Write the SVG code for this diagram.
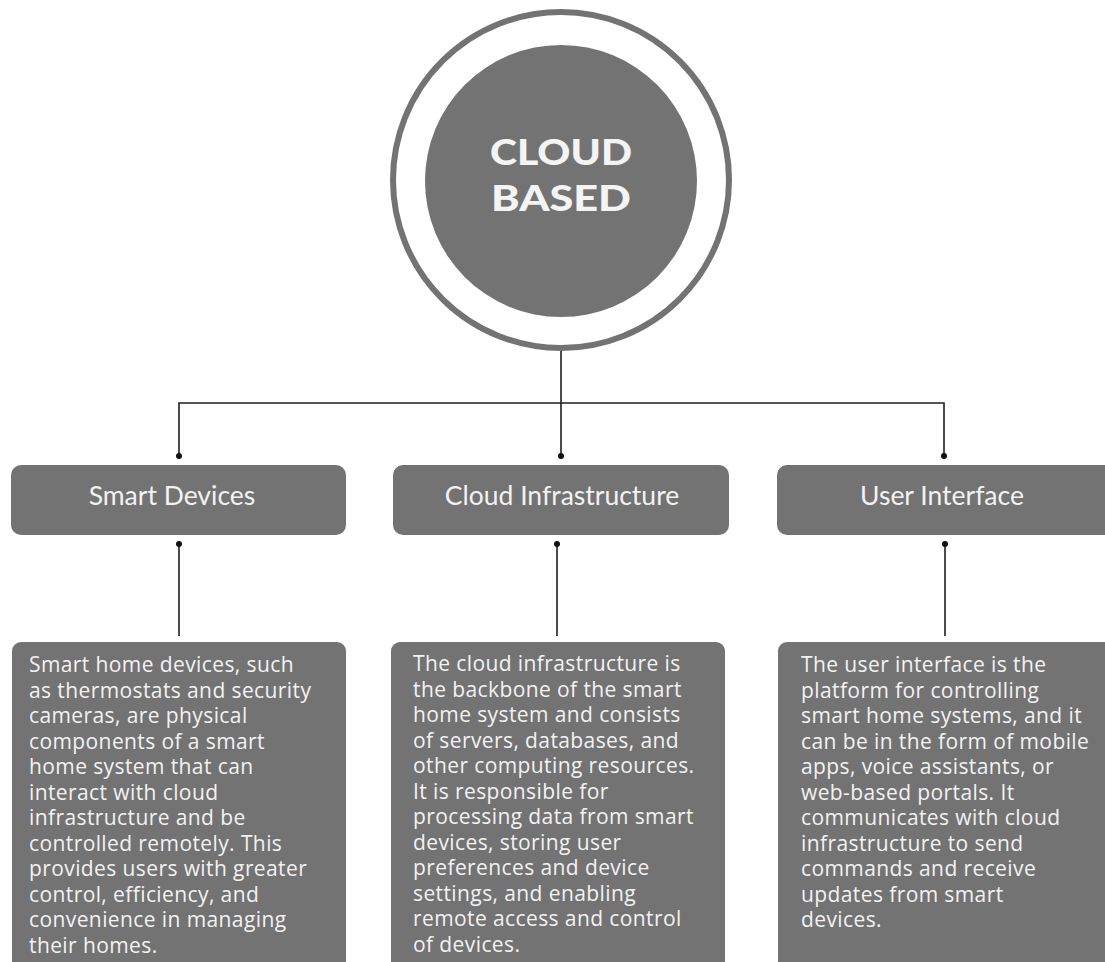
<svg xmlns="http://www.w3.org/2000/svg" width="1105" height="962" viewBox="0 0 1105 962">
<style>
.fill{fill:#737373}
.ring{fill:none;stroke:#737373;stroke-width:6}
.title{font-family:Lato,"Open Sans","DejaVu Sans",sans-serif;font-weight:900;font-size:36px;fill:#f4f4f4;text-anchor:middle}
.label{font-family:Lato,"Open Sans","DejaVu Sans",sans-serif;font-size:26.5px;fill:#f2f2f2;text-anchor:middle}
.desc{font-family:"Open Sans",Lato,"DejaVu Sans",sans-serif;font-size:21px;letter-spacing:0.4px;fill:#f2f2f2}
.conn{fill:none;stroke:#1e1e1e;stroke-width:1.6}
.dot{fill:#111}
</style>
<rect width="1105" height="962" fill="#ffffff"/>
<g id="connectors">
<polyline class="conn" points="179,456 179,403 944,403 944,456"/>
<line class="conn" x1="561" y1="351" x2="561" y2="456"/>
<line class="conn" x1="179" y1="544" x2="179" y2="636"/>
<line class="conn" x1="557" y1="544" x2="557" y2="636"/>
<line class="conn" x1="945" y1="544" x2="945" y2="636"/>
<circle class="dot" cx="179" cy="456" r="3"/>
<circle class="dot" cx="561" cy="456" r="3"/>
<circle class="dot" cx="944" cy="456" r="3"/>
<circle class="dot" cx="179" cy="544" r="3"/>
<circle class="dot" cx="557" cy="544" r="3"/>
<circle class="dot" cx="945" cy="544" r="3"/>
</g>
<g id="cloud-based">
<circle class="ring" cx="561" cy="180" r="168"/>
<circle class="fill" cx="561" cy="181" r="136"/>
<text class="title" x="561" y="165" textLength="142" lengthAdjust="spacingAndGlyphs">CLOUD</text>
<text class="title" x="561" y="211" textLength="140" lengthAdjust="spacingAndGlyphs">BASED</text>
</g>
<g id="smart-devices">
<rect class="fill" x="11" y="465" width="335" height="70" rx="10"/>
<text class="label" x="172" y="505">Smart Devices</text>
</g>
<g id="cloud-infrastructure">
<rect class="fill" x="393" y="465" width="336" height="70" rx="10"/>
<text class="label" x="562" y="505">Cloud Infrastructure</text>
</g>
<g id="user-interface">
<rect class="fill" x="777" y="465" width="340" height="70" rx="10"/>
<text class="label" x="942" y="505">User Interface</text>
</g>
<g id="smart-devices-desc">
<rect class="fill" x="12" y="642" width="334" height="340" rx="9"/>
<text class="desc" x="29" y="672">
<tspan x="29" y="672">Smart home devices, such</tspan>
<tspan x="29" y="697.5">as thermostats and security</tspan>
<tspan x="29" y="723">cameras, are physical</tspan>
<tspan x="29" y="748.5">components of a smart</tspan>
<tspan x="29" y="774">home system that can</tspan>
<tspan x="29" y="799.5">interact with cloud</tspan>
<tspan x="29" y="825">infrastructure and be</tspan>
<tspan x="29" y="850.5">controlled remotely. This</tspan>
<tspan x="29" y="876">provides users with greater</tspan>
<tspan x="29" y="901.5">control, efficiency, and</tspan>
<tspan x="29" y="927">convenience in managing</tspan>
<tspan x="29" y="952.5">their homes.</tspan>
</text>
</g>
<g id="cloud-infrastructure-desc">
<rect class="fill" x="391" y="642" width="334" height="340" rx="9"/>
<text class="desc" x="413" y="671">
<tspan x="413" y="671">The cloud infrastructure is</tspan>
<tspan x="413" y="696.5">the backbone of the smart</tspan>
<tspan x="413" y="722">home system and consists</tspan>
<tspan x="413" y="747.5">of servers, databases, and</tspan>
<tspan x="413" y="773">other computing resources.</tspan>
<tspan x="413" y="798.5">It is responsible for</tspan>
<tspan x="413" y="824">processing data from smart</tspan>
<tspan x="413" y="849.5">devices, storing user</tspan>
<tspan x="413" y="875">preferences and device</tspan>
<tspan x="413" y="900.5">settings, and enabling</tspan>
<tspan x="413" y="926">remote access and control</tspan>
<tspan x="413" y="951.5">of devices.</tspan>
</text>
</g>
<g id="user-interface-desc">
<rect class="fill" x="778" y="642" width="340" height="340" rx="9"/>
<text class="desc" x="801" y="672">
<tspan x="801" y="672">The user interface is the</tspan>
<tspan x="801" y="697.5">platform for controlling</tspan>
<tspan x="801" y="723">smart home systems, and it</tspan>
<tspan x="801" y="748.5">can be in the form of mobile</tspan>
<tspan x="801" y="774">apps, voice assistants, or</tspan>
<tspan x="801" y="799.5">web-based portals. It</tspan>
<tspan x="801" y="825">communicates with cloud</tspan>
<tspan x="801" y="850.5">infrastructure to send</tspan>
<tspan x="801" y="876">commands and receive</tspan>
<tspan x="801" y="901.5">updates from smart</tspan>
<tspan x="801" y="927">devices.</tspan>
</text>
</g>
</svg>
